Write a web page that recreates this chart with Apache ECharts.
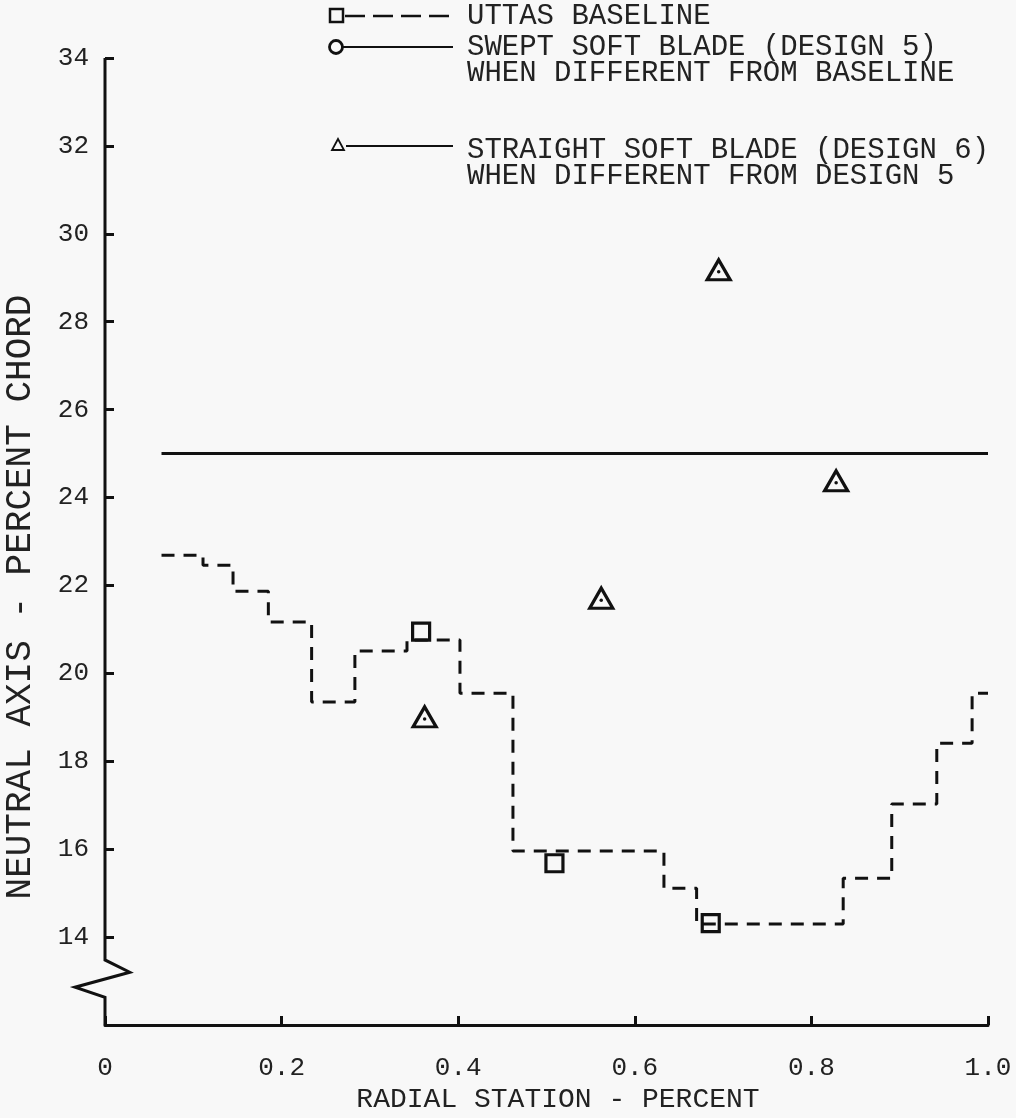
<!DOCTYPE html>
<html><head><meta charset="utf-8">
<script src="https://cdn.jsdelivr.net/npm/echarts@6/dist/echarts.min.js"></script>
<style>html,body{margin:0;padding:0;background:#f8f8f8}#chart{width:1016px;height:1118px}</style>
</head><body><div id="chart"></div>
<script>
const FONT = '"Liberation Mono", "DejaVu Sans Mono", monospace';

// Tick labels
const xTickLabels = ['0', '0.2', '0.4', '0.6', '0.8', '1.0'];
const yTickValues = [14, 16, 18, 20, 22, 24, 26, 28, 30, 32, 34];

// UTTAS baseline (dashed step line): segment start x and level
const baselineStepX = [0.064, 0.111, 0.145, 0.185, 0.234, 0.283, 0.342, 0.402, 0.462, 0.633, 0.670, 0.836, 0.891, 0.942, 0.982, 1.0];
const baselineStepY = [22.69, 22.46, 21.87, 21.17, 19.35, 20.51, 20.76, 19.55, 15.96, 15.11, 14.30, 15.34, 17.03, 18.41, 19.55, 19.55];
// UTTAS baseline square markers
const baselineMarkX = [0.358, 0.509, 0.686];
const baselineMarkY = [20.95, 15.68, 14.32];
// Swept soft blade (design 5) solid line
const design5X = [0.064, 1.0];
const design5Y = [25.0, 25.0];
// Straight soft blade (design 6) triangle points
const design6X = [0.362, 0.562, 0.695, 0.828];
const design6Y = [19.01, 21.71, 29.18, 24.38];
// Left axis with break symbol near the bottom
const axisBreakX = [0, 0, 0.028, -0.034, 0, 0];
const axisBreakY = [34, 13.48, 13.20, 12.86, 12.63, 12];

const zip = (a, b) => a.map((v, i) => [v, b[i]]);
const TRI = 'path://M12,1 L23,21 L1,21 Z';
const LEGEND_FONT = '29px ' + FONT;

const chart = echarts.init(document.getElementById('chart'), null, {renderer: 'canvas'});
chart.setOption({
  backgroundColor: '#f8f8f8',
  animation: false,
  grid: {left: 105, right: 28, top: 58, bottom: 93},
  xAxis: {
    type: 'value', min: 0, max: 1, interval: 0.2,
    axisLine: {show: true, lineStyle: {color: '#111', width: 3}},
    axisTick: {show: true, inside: true, length: 9, lineStyle: {color: '#111', width: 3}},
    axisLabel: {
      margin: 30, color: '#222', fontFamily: FONT, fontSize: 26,
      formatter: v => xTickLabels[Math.round(v / 0.2)]
    },
    splitLine: {show: false}
  },
  yAxis: {
    type: 'value', min: 12, max: 34, interval: 2,
    axisLine: {show: false},
    axisTick: {show: true, inside: true, length: 9, lineStyle: {color: '#111', width: 3}},
    axisLabel: {
      margin: 16, color: '#222', fontFamily: FONT, fontSize: 26,
      formatter: v => yTickValues.indexOf(v) >= 0 ? String(v) : ''
    },
    splitLine: {show: false}
  },
  graphic: [
    // Axis titles
    {type: 'text', x: 558, y: 1100, style: {text: 'RADIAL STATION - PERCENT', font: '28px ' + FONT, fill: '#222', textAlign: 'center', textVerticalAlign: 'middle'}},
    {type: 'text', x: 20, y: 597, rotation: Math.PI / 2, style: {text: 'NEUTRAL AXIS - PERCENT CHORD', font: '36px ' + FONT, fill: '#222', textAlign: 'center', textVerticalAlign: 'middle'}},
    // Legend row 1
    {type: 'rect', shape: {x: 330, y: 9, width: 13, height: 13}, style: {fill: 'none', stroke: '#111', lineWidth: 2.5}},
    {type: 'line', shape: {x1: 345, y1: 16, x2: 453, y2: 16}, style: {stroke: '#111', lineWidth: 2.5, lineDash: [20, 8]}},
    {type: 'text', x: 467, y: 16, style: {text: 'UTTAS BASELINE', font: LEGEND_FONT, fill: '#222', textVerticalAlign: 'middle'}},
    // Legend row 2
    {type: 'circle', shape: {cx: 336, cy: 47, r: 6.5}, style: {fill: 'none', stroke: '#111', lineWidth: 2.8}},
    {type: 'line', shape: {x1: 343, y1: 47, x2: 453, y2: 47}, style: {stroke: '#111', lineWidth: 2}},
    {type: 'text', x: 467, y: 34, style: {text: 'SWEPT SOFT BLADE (DESIGN 5)\nWHEN DIFFERENT FROM BASELINE', font: LEGEND_FONT, fill: '#222', lineHeight: 26}},
    // Legend row 3
    {type: 'polygon', shape: {points: [[338, 139], [344, 150], [332, 150]]}, style: {fill: 'none', stroke: '#111', lineWidth: 1.8}},
    {type: 'line', shape: {x1: 346, y1: 146, x2: 453, y2: 146}, style: {stroke: '#111', lineWidth: 2}},
    {type: 'text', x: 467, y: 137, style: {text: 'STRAIGHT SOFT BLADE (DESIGN 6)\nWHEN DIFFERENT FROM DESIGN 5', font: LEGEND_FONT, fill: '#222', lineHeight: 26}}
  ],
  series: [
    {
      name: 'axis', type: 'custom', data: [[0, 34]], clip: false, silent: true, z: 3,
      renderItem: (params, api) => ({
        type: 'polyline',
        shape: {points: zip(axisBreakX, axisBreakY).map(p => api.coord(p))},
        style: {stroke: '#111', lineWidth: 3, fill: null, lineJoin: 'miter'}
      })
    },
    {
      name: 'UTTAS BASELINE', type: 'line', step: 'end', data: zip(baselineStepX, baselineStepY),
      symbol: 'none', lineStyle: {color: '#111', width: 3, type: [13, 9]}
    },
    {
      name: 'UTTAS BASELINE markers', type: 'scatter', data: zip(baselineMarkX, baselineMarkY),
      symbol: 'rect', symbolSize: 17,
      itemStyle: {color: 'rgba(0,0,0,0)', borderColor: '#111', borderWidth: 3.2, opacity: 1}
    },
    {
      name: 'SWEPT SOFT BLADE (DESIGN 5)', type: 'line', data: zip(design5X, design5Y),
      symbol: 'none', lineStyle: {color: '#111', width: 3}
    },
    {
      name: 'STRAIGHT SOFT BLADE (DESIGN 6)', type: 'scatter', data: zip(design6X, design6Y),
      symbol: TRI, symbolSize: [23, 20],
      itemStyle: {color: 'rgba(0,0,0,0)', borderColor: '#111', borderWidth: 3.2, opacity: 1}
    },
    {
      name: 'STRAIGHT SOFT BLADE dots', type: 'scatter', data: zip(design6X, design6Y),
      symbol: 'circle', symbolSize: 3.5, symbolOffset: [0, 2],
      itemStyle: {color: '#111', opacity: 1}
    }
  ]
});
</script>
</body></html>
